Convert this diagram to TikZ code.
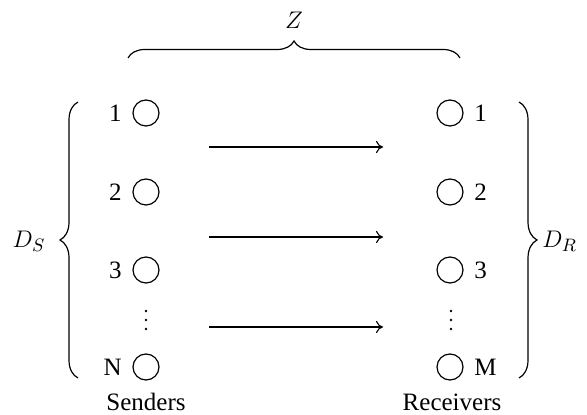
\documentclass[tikz,border=0pt]{standalone}
\usepackage{fontspec}
\setmainfont{Liberation Serif}
\usetikzlibrary{decorations.pathreplacing,arrows.meta}
\begin{document}
\begin{tikzpicture}[x=0.5pt,y=-0.5pt,
  station/.style={circle,draw,line width=0.6pt,minimum size=13pt,inner sep=0pt},
  idx/.style={font=\fontsize{12.5}{14}\selectfont,inner sep=1pt},
  caption/.style={font=\fontsize{12.5}{14}\selectfont,inner sep=0pt},
  dot/.style={circle,fill,minimum size=1.3pt,inner sep=0pt},
  link/.style={line width=0.55pt,-{To[length=3.5pt,width=6pt]}},
  curly/.style={decorate,line width=0.6pt,decoration={brace,amplitude=#1}}]
\useasboundingbox (0,0) rectangle (587,415);

% senders
\node[station] (s1) at (146,113) {};
\node[station] (s2) at (146,192) {};
\node[station] (s3) at (146,270) {};
\node[station] (sN) at (146,367) {};
\node[dot] (sd1) at (146,311) {};
\node[dot] (sd2) at (146,320) {};
\node[dot] (sd3) at (146,329) {};
\node[idx,anchor=east] (ls1) at (124,113) {1};
\node[idx,anchor=east] (ls2) at (124,192) {2};
\node[idx,anchor=east] (ls3) at (124,270) {3};
\node[idx,anchor=east] (lsN) at (124,367) {N};
\node[caption] (snd) at (146,402) {Senders};

% receivers
\node[station] (r1) at (450,113) {};
\node[station] (r2) at (450,192) {};
\node[station] (r3) at (450,270) {};
\node[station] (rM) at (450,367) {};
\node[dot] (rd1) at (451,311) {};
\node[dot] (rd2) at (451,320) {};
\node[dot] (rd3) at (451,329) {};
\node[idx,anchor=west] (lr1) at (472,113) {1};
\node[idx,anchor=west] (lr2) at (472,192) {2};
\node[idx,anchor=west] (lr3) at (472,270) {3};
\node[idx,anchor=west] (lrM) at (472,367) {M};
\node[caption] (rcv) at (452,402) {Receivers};

% transmissions
\coordinate (a1) at (209,147); \coordinate (b1) at (383,147);
\coordinate (a2) at (209,237); \coordinate (b2) at (383,237);
\coordinate (a3) at (209,327); \coordinate (b3) at (383,327);
\draw[link] (a1) -- (b1);
\draw[link] (a2) -- (b2);
\draw[link] (a3) -- (b3);

% braces and their labels
\coordinate (zl) at (128,58); \coordinate (zr) at (460,58);
\draw[curly=8.5pt] (zl) -- (zr);
\node[caption] (z) at (294,20) {$Z$};

\coordinate (dsb) at (78,378); \coordinate (dst) at (78,102);
\draw[curly=9pt] (dsb) -- (dst);
\node[caption] (ds) at (29,241) {$D_S$};

\coordinate (drt) at (519,102); \coordinate (drb) at (519,378);
\draw[curly=9pt] (drt) -- (drb);
\node[caption,anchor=west] (dr) at (542,241) {$D_R$};
\end{tikzpicture}
\end{document}
